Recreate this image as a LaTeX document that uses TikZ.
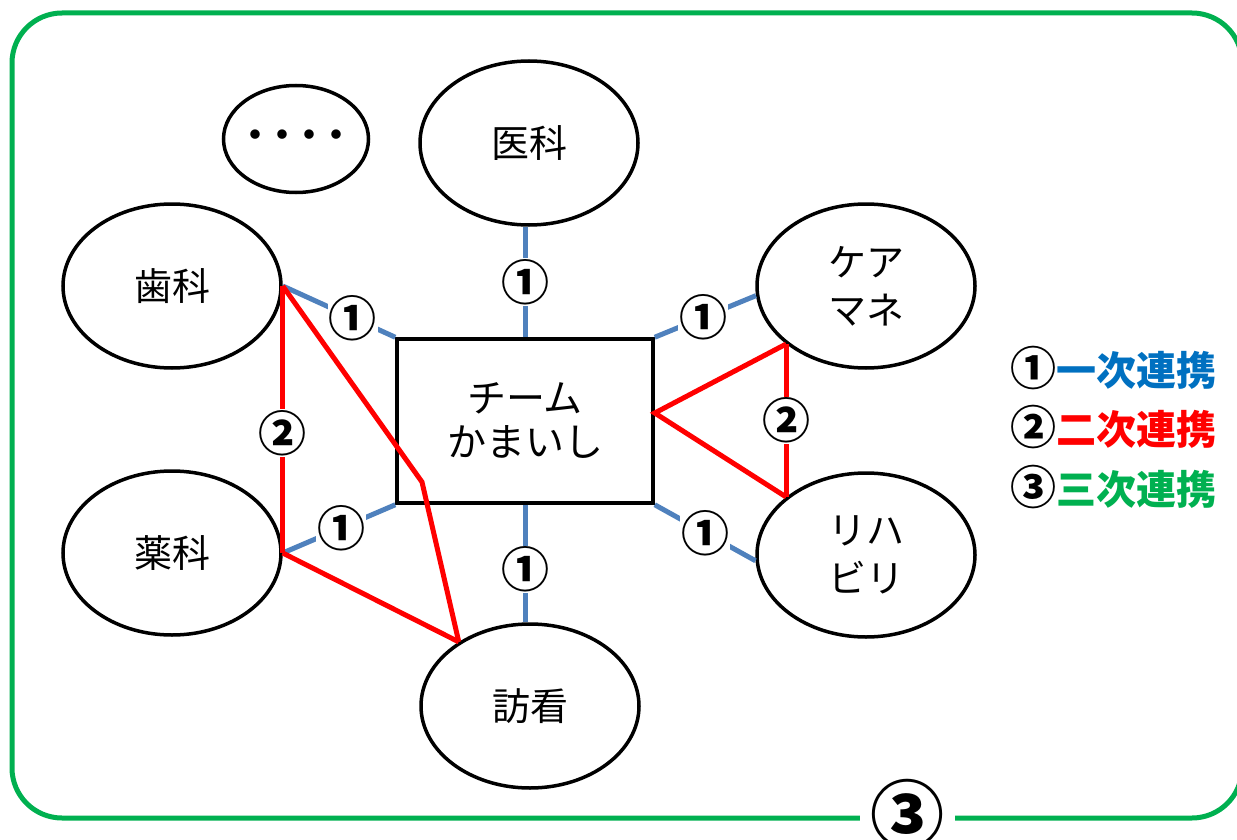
\documentclass[tikz,border=0pt]{standalone}
\usepackage{fontspec}
\setmainfont{Noto Sans CJK JP}
\usetikzlibrary{shapes.geometric}
\definecolor{linkblue}{RGB}{79,129,189}
\definecolor{legblue}{RGB}{0,112,192}
\definecolor{legred}{RGB}{255,0,0}
\definecolor{leggreen}{RGB}{0,176,80}
\newcommand{\legnum}[1]{{\fontsize{46}{40}\selectfont #1}}
\begin{document}
\begin{tikzpicture}[x=1pt,y=-1pt,
 oval/.style={ellipse, draw, line width=3.5pt, minimum width=218pt, minimum height=164pt, inner sep=0pt, align=center, font=\fontsize{38}{48}\selectfont},
 teambox/.style={draw, line width=3.5pt, minimum width=256pt, minimum height=164pt, inner sep=0pt, align=center, font=\fontsize{39}{44}\selectfont},
 bluelink/.style={draw=linkblue, line width=5pt},
 redlink/.style={draw=red, line width=5pt},
 num/.style={fill=white, inner sep=1pt, font=\fontsize{48}{48}\selectfont\bfseries},
 legend/.style={anchor=west, inner sep=0pt, font=\fontsize{40}{40}\selectfont\bfseries},
]
\useasboundingbox (0,0) rectangle (1237,840);
% frame
\draw[leggreen, line width=5pt, rounded corners=50pt] (12,13) rectangle (1242,818);
\node[fill=white, minimum width=95pt, minimum height=60pt, inner sep=0pt, font=\fontsize{74}{74}\selectfont\bfseries] (three) at (907,814) {③};

% nodes
\node[oval, minimum width=145pt, minimum height=107pt, font=\fontsize{34}{34}\selectfont\bfseries] (dots) at (296,139) {\makebox[0pt]{・\hspace{-7pt}・\hspace{-7pt}・\hspace{-7pt}・}};
\node[oval] (igaku) at (529,143) {医科};
\node[oval] (shika) at (172,286) {歯科};
\node[oval] (yakka) at (172,553) {薬科};
\node[oval] (houkan) at (530,706) {訪看};
\node[oval] (care) at (866,286) {ケア\\マネ};
\node[oval] (rehab) at (866,555) {リハ\\ビリ};
\node[teambox] (team) at (525,421) {チーム\\かまいし};

% blue links
\draw[bluelink] (team.north) -- (team.north |- igaku.south) node[num, pos=0.5] {①};
\draw[bluelink] (shika.east) -- (team.north west) node[num, pos=0.62] {①};
\draw[bluelink] (team.north east) -- (care.185) node[num, pos=0.48] {①};
\draw[bluelink] (team.south west) -- (yakka.east) node[num, pos=0.48] {①};
\draw[bluelink] (team.south) -- (team.south |- houkan.north) node[num, pos=0.55] {①};
\draw[bluelink] (team.south east) -- (rehab.183) node[num, pos=0.5] {①};

% red links
\coordinate (bend) at (422,482);
\draw[redlink] (shika.east) -- (yakka.east) node[num, pos=0.55] {②};
\draw[redlink] (shika.east) -- (bend) -- (houkan.138);
\draw[redlink] (yakka.east) -- (houkan.138);
\draw[redlink] (care.216) -- (rehab.144) node[num, pos=0.5] {②};
\draw[redlink] (care.216) -- ([yshift=8pt]team.east) -- (rehab.144);

% legend
\node[legend] (leg1) at (1010,368) {\legnum{①}\textcolor{legblue}{一次連携}};
\node[legend] (leg2) at (1010,427) {\legnum{②}\textcolor{legred}{二次連携}};
\node[legend] (leg3) at (1010,487) {\legnum{③}\textcolor{leggreen}{三次連携}};
\end{tikzpicture}
\end{document}
